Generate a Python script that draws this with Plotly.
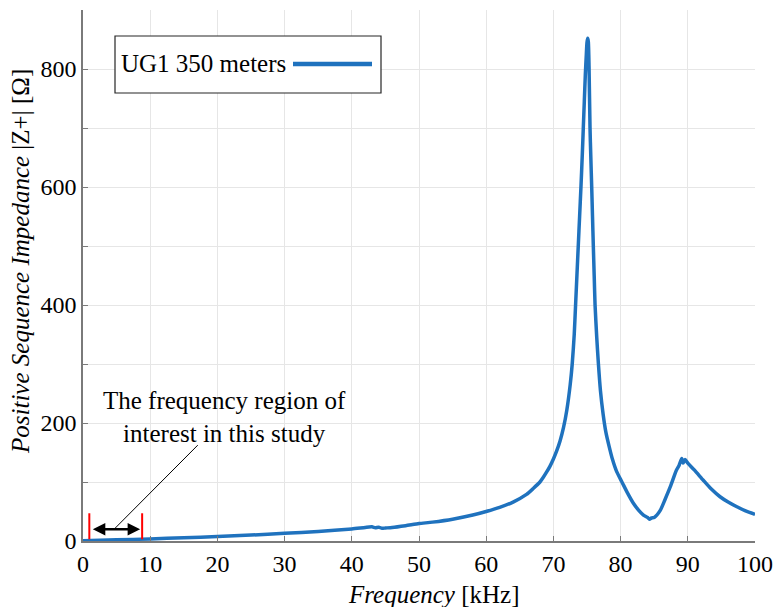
import plotly.graph_objects as go

# Frequency in kHz, impedance magnitude in ohm
freq_khz = [0, 5, 10, 15, 20, 25, 30, 35, 40, 42, 43, 43.5, 44, 44.5, 45, 46, 48, 50,
            52, 55, 58, 60, 62, 64, 66, 67, 68, 68.5, 69, 69.5, 70, 70.5, 71, 71.5, 72,
            72.5, 72.8, 73.1, 73.3, 73.5, 73.7, 73.9, 74.1, 74.3, 74.45, 74.6, 74.75,
            74.9, 75.0, 75.1, 75.2, 75.3, 75.45, 75.57, 75.7, 75.82, 75.94, 76.07, 76.2,
            76.45, 76.7, 77.0, 77.4, 77.8, 78.3, 78.8, 79.4, 80.2, 81, 81.9, 82.7, 83.4,
            84, 84.3, 84.6, 85, 85.9, 86.6, 87.4, 88.3, 88.7, 89.1, 89.3, 89.6, 90, 91,
            92.3, 93.5, 94.8, 96, 97.3, 98.6, 100]
z_pos = [0.5, 2, 3.5, 5.5, 7.5, 10, 13, 16, 20.5, 23, 24, 22.5, 23.5, 21.5, 22, 23, 26, 29.5,
         32, 37, 44, 50, 57, 66, 79, 89, 100, 108, 117, 127, 139, 153, 170, 192, 222,
         265, 300, 350, 400, 450, 500, 550, 600, 655, 700, 745, 790,
         825, 845, 852, 846, 805, 700, 650, 600, 550, 500, 450, 400,
         345, 300, 255, 215, 185, 160, 138, 118, 100, 82, 64, 52, 44,
         40, 37, 39, 40, 52, 70, 92, 120, 128, 140, 132, 138, 132, 120,
         103, 88, 75, 66, 58, 51, 45]

series_name = "UG1 350 meters"
x_ticks = [0, 10, 20, 30, 40, 50, 60, 70, 80, 90, 100]
y_ticks = [0, 100, 200, 300, 400, 500, 600, 700, 800, 900]
y_tick_text = ["0", "", "200", "", "400", "", "600", "", "800", ""]

roi_start, roi_end = 0.94, 8.8

LINE = "#1f72be"
FONT = "Liberation Serif"
AX = "#7a7a7a"
TXT = 25

fig = go.Figure()
fig.add_trace(go.Scatter(x=freq_khz, y=z_pos, mode="lines", name=series_name,
                         line=dict(color=LINE, width=3.5, shape="spline", smoothing=0.6),
                         showlegend=False))

W, H = 773, 607
L, R, T, B = 83, 18, 10, 66
pw, ph = W - L - R, H - T - B


def px(xp):
    return (xp - L) / pw


def py(yp):
    return 1 - (yp - T) / ph


shapes = []
# red markers of the frequency region of interest
for xv in (roi_start, roi_end):
    shapes.append(dict(type="line", xref="x", yref="y", x0=xv, x1=xv, y0=3, y1=47,
                       line=dict(color="#ff0000", width=2)))
# custom legend box (line sample on the right)
shapes.append(dict(type="rect", xref="paper", yref="paper", x0=px(115), x1=px(381),
                   y0=py(93), y1=py(36), line=dict(color="#262626", width=1.2),
                   fillcolor="white", layer="above"))
shapes.append(dict(type="line", xref="paper", yref="paper", x0=px(293), x1=px(372),
                   y0=py(64), y1=py(64), line=dict(color=LINE, width=4.5), layer="above"))

annotations = [
    dict(xref="paper", yref="paper", x=px(119), y=py(64), xanchor="left", yanchor="middle",
         text=series_name, showarrow=False, font=dict(family=FONT, size=TXT, color="black")),
    # double arrow
    dict(xref="x", yref="y", x=roi_end - 0.3, y=20, ax=roi_start + 0.3, ay=20,
         axref="x", ayref="y", showarrow=True, arrowside="end+start", arrowhead=2,
         arrowsize=1.0, arrowwidth=2.5, arrowcolor="black", text=""),
    # pointer line
    dict(xref="x", yref="y", x=4.76, y=21.5, ax=17.3, ay=165, axref="x", ayref="y",
         showarrow=True, arrowhead=0, arrowwidth=1, arrowcolor="black", text=""),
    dict(xref="paper", yref="paper", x=px(224), y=py(417), xanchor="center", yanchor="middle",
         text="The frequency region of<br>interest in this study", showarrow=False,
         align="center", font=dict(family=FONT, size=TXT, color="black")),
    # axis titles
    dict(xref="paper", yref="paper", x=px(434), y=py(594), xanchor="center", yanchor="middle",
         text="<i>Frequency</i> [kHz]", showarrow=False,
         font=dict(family=FONT, size=TXT, color="black")),
    dict(xref="paper", yref="paper", x=px(20), y=py(262), xanchor="center", yanchor="middle",
         text="<i>Positive Sequence Impedance</i> |Z+| [Ω]", showarrow=False, textangle=-90,
         font=dict(family=FONT, size=TXT, color="black")),
]

fig.update_layout(
    width=W, height=H,
    margin=dict(l=L, r=R, t=T, b=B),
    plot_bgcolor="white", paper_bgcolor="white",
    font=dict(family=FONT, size=24, color="black"),
    shapes=shapes, annotations=annotations,
    xaxis=dict(range=[0, 100], tickvals=x_ticks, showgrid=True, gridcolor="#e6e6e6",
               gridwidth=1, showline=True, linecolor=AX, linewidth=1.5, ticks="inside",
               ticklen=5, tickcolor=AX, zeroline=False, mirror=False, automargin=False,
               tickfont=dict(family=FONT, size=24, color="black")),
    yaxis=dict(range=[0, 900], tickvals=y_ticks, ticktext=y_tick_text, showgrid=True,
               gridcolor="#e6e6e6", gridwidth=1, showline=True, linecolor=AX, linewidth=1.5,
               ticks="inside", ticklen=5, tickcolor=AX, zeroline=False, mirror=False,
               automargin=False, tickfont=dict(family=FONT, size=24, color="black")),
)

fig.write_html("out.html", config={"displayModeBar": False},
               post_script="document.body.style.margin='0px';document.body.style.padding='0px';")
